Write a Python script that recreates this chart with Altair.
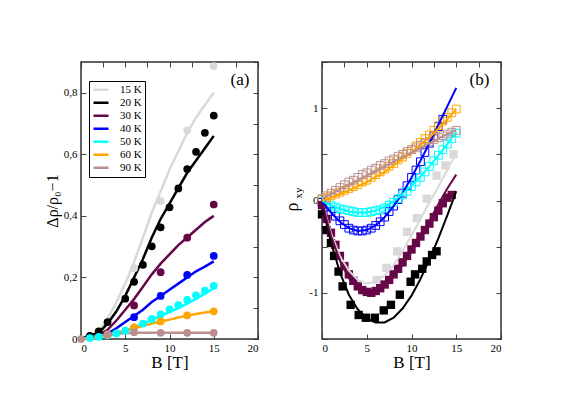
import altair as alt
import pandas as pd

FONT = "Liberation Serif"
temps = ["15 K", "20 K", "30 K", "40 K", "50 K", "60 K", "90 K"]
palette = ["#d9d9d9", "#000000", "#670748", "#0000ff", "#00ffff", "#ffa500", "#bc8f8f"]

# ---------------- panel (a): magnetoresistance ----------------
a_line_B = list(range(16))
a_line = {
    "15 K": [0, 0.005, 0.025, 0.065, 0.12, 0.18, 0.25, 0.33, 0.41, 0.48, 0.55, 0.61, 0.67, 0.72, 0.76, 0.80],
    "20 K": [0, 0.012, 0.02, 0.05, 0.09, 0.14, 0.20, 0.26, 0.33, 0.39, 0.44, 0.49, 0.54, 0.58, 0.62, 0.66],
    "30 K": [0, 0.003, 0.012, 0.03, 0.06, 0.095, 0.13, 0.17, 0.21, 0.245, 0.275, 0.305, 0.33, 0.355, 0.38, 0.40],
    "40 K": [0, 0.002, 0.008, 0.018, 0.035, 0.055, 0.075, 0.095, 0.12, 0.14, 0.16, 0.18, 0.20, 0.22, 0.235, 0.252],
    "50 K": [0, 0.001, 0.004, 0.01, 0.018, 0.027, 0.037, 0.05, 0.062, 0.075, 0.088, 0.10, 0.115, 0.13, 0.147, 0.165],
    "60 K": [0, 0.002, 0.006, 0.012, 0.02, 0.028, 0.035, 0.043, 0.05, 0.057, 0.063, 0.07, 0.076, 0.081, 0.086, 0.09],
    "90 K": [0, 0.006, 0.011, 0.015, 0.018, 0.019, 0.02, 0.02, 0.02, 0.02, 0.02, 0.02, 0.02, 0.02, 0.02, 0.02],
}
a_pts = {
    "15 K": ([6, 9, 12, 15], [0.23, 0.448, 0.678, 0.887]),
    "20 K": ([1, 2, 3, 5, 6, 7, 8, 9, 10, 11, 12, 13, 14, 15],
             [0.01, 0.025, 0.055, 0.131, 0.186, 0.241, 0.301, 0.363, 0.428, 0.489, 0.552, 0.608, 0.67, 0.726]),
    "30 K": ([3, 6, 9, 12, 15], [0.015, 0.109, 0.217, 0.329, 0.437]),
    "40 K": ([3, 6, 9, 12, 15], [0.015, 0.071, 0.14, 0.208, 0.27]),
    "50 K": (list(range(1, 16)),
             [0.003, 0.007, 0.012, 0.018, 0.027, 0.037, 0.05, 0.065, 0.08, 0.096, 0.11, 0.127, 0.142, 0.157, 0.173]),
    "60 K": ([3, 6, 9, 12, 15], [0.015, 0.038, 0.057, 0.077, 0.09]),
    "90 K": ([0, 3, 6, 9, 12, 15], [0.0, 0.015, 0.022, 0.02, 0.02, 0.02]),
}

# ---------------- panel (b): Hall resistivity ----------------
b_line_B = [0, 0.5, 1, 2, 3, 4, 5, 6, 7, 8, 9, 10, 11, 12, 13, 14, 15]
b_line = {
    "15 K": [0, -0.18, -0.35, -0.6, -0.76, -0.86, -0.9, -0.88, -0.81, -0.7, -0.55, -0.38, -0.2, -0.02, 0.15, 0.33, 0.52],
    "20 K": [0, -0.25, -0.45, -0.78, -1.02, -1.18, -1.28, -1.32, -1.32, -1.27, -1.17, -1.03, -0.85, -0.64, -0.41, -0.16, 0.1],
    "30 K": [0, -0.2, -0.38, -0.65, -0.84, -0.95, -1.0, -0.99, -0.93, -0.83, -0.7, -0.55, -0.39, -0.22, -0.04, 0.13, 0.28],
    "40 K": [0, -0.07, -0.13, -0.23, -0.3, -0.33, -0.32, -0.27, -0.18, -0.06, 0.08, 0.25, 0.43, 0.62, 0.82, 1.02, 1.22],
    "50 K": [0, -0.03, -0.05, -0.09, -0.12, -0.13, -0.13, -0.11, -0.07, -0.01, 0.07, 0.16, 0.26, 0.37, 0.49, 0.61, 0.74],
    "60 K": [0, 0.015, 0.03, 0.07, 0.11, 0.155, 0.2, 0.255, 0.31, 0.38, 0.45, 0.52, 0.6, 0.68, 0.78, 0.88, 0.99],
    "90 K": [0.02, 0.045, 0.07, 0.12, 0.17, 0.22, 0.27, 0.32, 0.37, 0.42, 0.47, 0.52, 0.57, 0.62, 0.67, 0.72, 0.76],
}
half_steps = [i * 0.5 for i in range(31)]
b_filled = {
    "15 K": ([6.1, 7.2, 8.4, 9.5, 10.6, 11.7, 12.8, 13.8, 14.7],
             [-0.86, -0.73, -0.55, -0.34, -0.19, 0.02, 0.27, 0.38, 0.5]),
    "20 K": ([0, 0.5, 1, 1.35, 1.85, 2.3, 3.2, 4.1, 4.9, 5.9, 6.9, 7.7, 8.7, 9.9, 10.4, 11.2, 11.7, 12.3, 12.8],
             [-0.15, -0.32, -0.46, -0.6, -0.77, -0.93, -1.13, -1.24, -1.27, -1.27, -1.19, -1.13, -1.02, -0.88,
              -0.8, -0.74, -0.66, -0.59, -0.55]),
    "30 K": (half_steps[:30],
             [-0.05, -0.2, -0.35, -0.48, -0.6, -0.71, -0.8, -0.87, -0.93, -0.97, -0.99, -1.0, -0.98, -0.95, -0.91,
              -0.86, -0.8, -0.74, -0.67, -0.6, -0.53, -0.46, -0.39, -0.32, -0.25, -0.18, -0.11, -0.03, 0.03, 0.06]),
}
b_open = {
    "40 K": (half_steps[:28],
             [-0.02, -0.07, -0.12, -0.17, -0.22, -0.26, -0.3, -0.32, -0.33, -0.33, -0.32, -0.3, -0.27, -0.23,
              -0.18, -0.12, -0.06, 0.01, 0.08, 0.16, 0.25, 0.33, 0.42, 0.52, 0.62, 0.7, 0.8, 0.88]),
    "50 K": (half_steps,
             [-0.01, -0.03, -0.05, -0.07, -0.09, -0.1, -0.11, -0.12, -0.13, -0.13, -0.13, -0.12, -0.11, -0.1,
              -0.08, -0.05, -0.02, 0.02, 0.06, 0.1, 0.15, 0.2, 0.25, 0.31, 0.37, 0.43, 0.49, 0.55, 0.61, 0.67, 0.73]),
    "60 K": (half_steps,
             [0.01, 0.03, 0.05, 0.07, 0.09, 0.11, 0.13, 0.15, 0.17, 0.2, 0.22, 0.25, 0.28, 0.31, 0.34, 0.37, 0.4,
              0.44, 0.47, 0.51, 0.55, 0.59, 0.63, 0.67, 0.71, 0.76, 0.81, 0.86, 0.9, 0.95, 0.99]),
    "90 K": (half_steps,
             [0.02, 0.05, 0.08, 0.11, 0.14, 0.17, 0.2, 0.22, 0.25, 0.28, 0.3, 0.33, 0.35, 0.38, 0.4, 0.43, 0.45,
              0.48, 0.5, 0.53, 0.55, 0.57, 0.6, 0.62, 0.64, 0.66, 0.68, 0.7, 0.72, 0.74, 0.76]),
}
x_range = [0, 20]
ya_range = [0, 0.9]
yb_range = [-1.5, 1.5]


def long_lines(xs, d):
    rows = []
    for t, ys in d.items():
        for i, (x, y) in enumerate(zip(xs, ys)):
            rows.append({"T": t, "B": x, "v": y, "o": i})
    return pd.DataFrame(rows)


def long_pts(d):
    rows = []
    for t, (xs, ys) in d.items():
        for x, y in zip(xs, ys):
            rows.append({"T": t, "B": x, "v": y})
    return pd.DataFrame(rows)


df_a_line = long_lines(a_line_B, a_line)
df_a_pts = long_pts(a_pts)
df_b_line = long_lines(b_line_B, b_line)
df_b_fill = long_pts(b_filled)
df_b_open = long_pts(b_open)

color_scale = alt.Scale(domain=temps, range=palette)
xa_scale = alt.Scale(domain=x_range, nice=False, zero=False)
ya_scale = alt.Scale(domain=ya_range, nice=False, zero=False)
yb_scale = alt.Scale(domain=yb_range, nice=False, zero=False)

x_ticks = [i * 2.5 for i in range(9)]
ya_ticks = [round(i * 0.1, 1) for i in range(10)]
yb_ticks = [-1.5, -1, -0.5, 0, 0.5, 1, 1.5]

TICK = 5
TICKCOL = "#444444"
common_axis = dict(tickSize=TICK, offset=-TICK, domain=False, grid=False, tickColor=TICKCOL,
                   labelColor="black", labelFont=FONT, labelFontSize=11, titleFont=FONT,
                   titleColor="black", titleFontWeight="normal")

x_axis = alt.Axis(values=x_ticks, labelExpr="datum.value % 5 == 0 ? format(datum.value, 'd') : ''",
                  labelPadding=3, title="B [T]", titleFontSize=17, titlePadding=1, **common_axis)
ya_axis = alt.Axis(values=ya_ticks,
                   labelExpr="round(datum.value*10) % 2 == 0 ? (datum.value == 0 ? '0' : replace(format(datum.value, '.1f'), '.', ',')) : ''",
                   labelPadding=4, title="Δρ/ρ₀−1", titleFontSize=16, titlePadding=3, **common_axis)
yb_axis = alt.Axis(values=yb_ticks,
                   labelExpr="datum.value % 1 == 0 ? toString(datum.value) : ''",
                   labelPadding=4, title=None, **common_axis)

mirror = dict(tickSize=TICK, offset=-TICK, domain=False, grid=False, labels=False, tickColor=TICKCOL, title=None)


def mirror_layer(df, ydom_scale, yvals):
    return alt.Chart(df).mark_point(opacity=0).encode(
        x=alt.X("B:Q", scale=xa_scale, axis=alt.Axis(orient="top", values=x_ticks, **mirror)),
        y=alt.Y("v:Q", scale=ydom_scale, axis=alt.Axis(orient="right", values=yvals, **mirror)),
    )


def frame_layer(yr):
    return alt.Chart(pd.DataFrame({"k": [0]})).mark_rect(
        filled=False, stroke="#333333", strokeWidth=1.5).encode(
        x=alt.datum(x_range[0]), x2=alt.datum(x_range[1]),
        y=alt.datum(yr[0]), y2=alt.datum(yr[1]))


# ---- panel a ----
a_lines = alt.Chart(df_a_line).mark_line(strokeWidth=2.5).encode(
    x=alt.X("B:Q", scale=xa_scale, axis=x_axis),
    y=alt.Y("v:Q", scale=ya_scale, axis=ya_axis),
    color=alt.Color("T:N", scale=color_scale, sort=temps, legend=alt.Legend(
        title=None, orient="none", legendX=8, legendY=19, symbolType="stroke", symbolStrokeWidth=2.5,
        symbolSize=225, labelFont=FONT, labelFontSize=11, labelColor="black", labelOffset=10,
        clipHeight=11.7, rowPadding=0, padding=3, strokeColor="black", fillColor="white")),
    detail="T:N",
    order="o:Q",
)
a_points = alt.Chart(df_a_pts).mark_circle(size=60, opacity=1).encode(
    x=alt.X("B:Q", scale=xa_scale),
    y=alt.Y("v:Q", scale=ya_scale),
    color=alt.Color("T:N", scale=color_scale, legend=None),
)
a_label = alt.Chart(pd.DataFrame({"t": ["(a)"]})).mark_text(font=FONT, fontSize=17, color="black").encode(
    x=alt.datum(17.97), y=alt.datum(0.842), text="t:N")

panel_a = alt.layer(
    alt.layer(frame_layer(ya_range), a_lines, a_points, a_label),
    mirror_layer(df_a_line, ya_scale, ya_ticks),
).resolve_scale(x="independent", y="independent").properties(width=177, height=277)

# ---- panel b ----
b_lines = alt.Chart(df_b_line).mark_line(strokeWidth=2).encode(
    x=alt.X("B:Q", scale=xa_scale, axis=x_axis),
    y=alt.Y("v:Q", scale=yb_scale, axis=yb_axis),
    color=alt.Color("T:N", scale=color_scale, legend=None),
    detail="T:N",
    order="o:Q",
)
b_fill = alt.Chart(df_b_fill).mark_point(shape="square", filled=True, size=70, opacity=1).encode(
    x=alt.X("B:Q", scale=xa_scale),
    y=alt.Y("v:Q", scale=yb_scale),
    color=alt.Color("T:N", scale=color_scale, legend=None),
)
b_open_l = alt.Chart(df_b_open).mark_point(shape="square", filled=False, size=60, strokeWidth=1, opacity=1).encode(
    x=alt.X("B:Q", scale=xa_scale),
    y=alt.Y("v:Q", scale=yb_scale),
    color=alt.Color("T:N", scale=color_scale, legend=None),
)
b_label = alt.Chart(pd.DataFrame({"t": ["(b)"]})).mark_text(font=FONT, fontSize=17, color="black").encode(
    x=alt.datum(17.6), y=alt.datum(1.31), text="t:N")
rho = alt.Chart(pd.DataFrame({"t": ["ρ"]})).mark_text(font=FONT, fontSize=18, color="black", angle=270).encode(
    x=alt.value(-29), y=alt.value(145), text="t:N")
rho_sub = alt.Chart(pd.DataFrame({"t": ["xy"]})).mark_text(font=FONT, fontSize=11, color="black", angle=270).encode(
    x=alt.value(-23), y=alt.value(131), text="t:N")

panel_b = alt.layer(
    alt.layer(frame_layer(yb_range), b_open_l, b_fill, b_lines, b_label, rho, rho_sub),
    mirror_layer(df_b_line, yb_scale, yb_ticks),
).resolve_scale(x="independent", y="independent").properties(width=179, height=277)

chart = alt.hconcat(panel_a, panel_b, spacing=23).properties(
    padding={"left": 35, "top": 52, "right": 30, "bottom": 8}
).configure(font=FONT, background="white")

chart.save("out.html", embed_options={"renderer": "svg", "actions": False})
